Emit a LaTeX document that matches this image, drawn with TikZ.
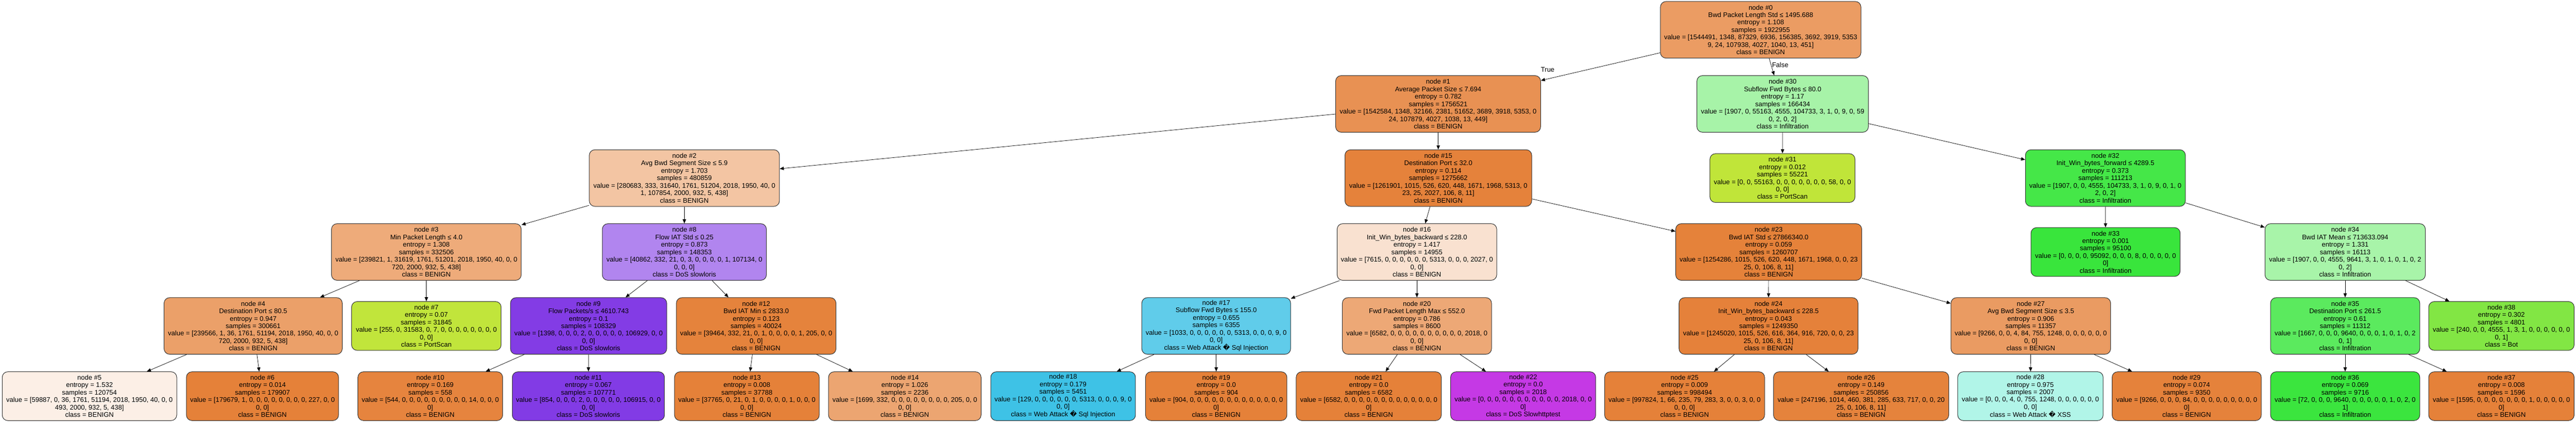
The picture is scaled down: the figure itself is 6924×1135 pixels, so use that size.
\documentclass[tikz,border=0pt]{standalone}
\usepackage{fontspec}
\setmainfont{Liberation Sans}
\newfontfamily\djv{DejaVu Sans}
\usetikzlibrary{arrows.meta}
\definecolor{c0}{RGB}{235,156,99}
\definecolor{c1}{RGB}{232,145,83}
\definecolor{c2}{RGB}{243,197,163}
\definecolor{c3}{RGB}{238,171,122}
\definecolor{c4}{RGB}{235,160,105}
\definecolor{c5}{RGB}{252,239,230}
\definecolor{c6}{RGB}{229,129,57}
\definecolor{c7}{RGB}{193,229,59}
\definecolor{c8}{RGB}{177,133,239}
\definecolor{c9}{RGB}{131,60,229}
\definecolor{c10}{RGB}{230,132,62}
\definecolor{c11}{RGB}{130,59,229}
\definecolor{c12}{RGB}{229,131,60}
\definecolor{c13}{RGB}{229,129,57}
\definecolor{c14}{RGB}{236,165,113}
\definecolor{c15}{RGB}{229,130,59}
\definecolor{c16}{RGB}{249,225,208}
\definecolor{c17}{RGB}{96,204,234}
\definecolor{c18}{RGB}{62,194,230}
\definecolor{c19}{RGB}{229,129,57}
\definecolor{c20}{RGB}{237,168,118}
\definecolor{c21}{RGB}{229,129,57}
\definecolor{c22}{RGB}{197,57,229}
\definecolor{c23}{RGB}{229,130,58}
\definecolor{c24}{RGB}{229,129,58}
\definecolor{c25}{RGB}{229,129,57}
\definecolor{c26}{RGB}{229,131,60}
\definecolor{c27}{RGB}{234,155,98}
\definecolor{c28}{RGB}{177,245,232}
\definecolor{c29}{RGB}{229,130,59}
\definecolor{c30}{RGB}{167,243,168}
\definecolor{c31}{RGB}{192,229,57}
\definecolor{c32}{RGB}{69,231,72}
\definecolor{c33}{RGB}{57,229,60}
\definecolor{c34}{RGB}{168,244,169}
\definecolor{c35}{RGB}{91,234,94}
\definecolor{c36}{RGB}{59,229,62}
\definecolor{c37}{RGB}{229,129,57}
\definecolor{c38}{RGB}{130,230,68}
\definecolor{bord}{RGB}{50,50,50}
\newcommand\qm{{\djv �}}
\begin{document}
\begin{tikzpicture}[x=1pt,y=-1pt,
  tn/.style={draw=bord, line width=1.4pt, rounded corners=15pt, align=center, inner sep=0pt, font=\fontsize{18}{20}\selectfont},
  inn/.style={tn, minimum height=152pt},
  lf/.style={tn, minimum height=131pt},
  lbl/.style={inner sep=0pt, font=\fontsize{18}{20}\selectfont},
  arr/.style={-{Triangle[length=11pt,width=9pt]}, line width=1pt}]
\useasboundingbox[fill=white] (0,0) rectangle (6924,1135);
% level 0
\node[inn, fill=c0, minimum width=539pt] (n0) at (4732.5,80) {node \#0\\Bwd Packet Length Std ≤ 1495.688\\entropy = 1.108\\samples = 1922955\\value = [1544491, 1348, 87329, 6936, 156385, 3692, 3919, 5353\\9, 24, 107938, 4027, 1040, 13, 451]\\class = BENIGN};
% level 1
\node[inn, fill=c1, minimum width=551pt] (n1) at (3865.5,279) {node \#1\\Average Packet Size ≤ 7.694\\entropy = 0.782\\samples = 1756521\\value = [1542584, 1348, 32166, 2381, 51652, 3689, 3918, 5353, 0\\24, 107879, 4027, 1038, 13, 449]\\class = BENIGN};
\node[inn, fill=c30, minimum width=461pt] (n30) at (4791.5,279) {node \#30\\Subflow Fwd Bytes ≤ 80.0\\entropy = 1.17\\samples = 166434\\value = [1907, 0, 55163, 4555, 104733, 3, 1, 0, 9, 0, 59\\0, 2, 0, 2]\\class = Infiltration};
% level 2
\node[inn, fill=c2, minimum width=511pt] (n2) at (1839.5,478) {node \#2\\Avg Bwd Segment Size ≤ 5.9\\entropy = 1.703\\samples = 480859\\value = [280683, 333, 31640, 1761, 51204, 2018, 1950, 40, 0\\1, 107854, 2000, 932, 5, 438]\\class = BENIGN};
\node[inn, fill=c15, minimum width=502pt] (n15) at (3866,478) {node \#15\\Destination Port ≤ 32.0\\entropy = 0.114\\samples = 1275662\\value = [1261901, 1015, 526, 620, 448, 1671, 1968, 5313, 0\\23, 25, 2027, 106, 8, 11]\\class = BENIGN};
\node[lf, fill=c31, minimum width=390pt] (n31) at (4791,478) {node \#31\\entropy = 0.012\\samples = 55221\\value = [0, 0, 55163, 0, 0, 0, 0, 0, 0, 0, 58, 0, 0\\0, 0]\\class = PortScan};
\node[inn, fill=c32, minimum width=430pt] (n32) at (5659,478) {node \#32\\Init\_Win\_bytes\_forward ≤ 4289.5\\entropy = 0.373\\samples = 111213\\value = [1907, 0, 0, 4555, 104733, 3, 1, 0, 9, 0, 1, 0\\2, 0, 2]\\class = Infiltration};
% level 3
\node[inn, fill=c3, minimum width=510pt] (n3) at (1146,676.5) {node \#3\\Min Packet Length ≤ 4.0\\entropy = 1.308\\samples = 332506\\value = [239821, 1, 31619, 1761, 51201, 2018, 1950, 40, 0, 0\\720, 2000, 932, 5, 438]\\class = BENIGN};
\node[inn, fill=c8, minimum width=441pt] (n8) at (1839.5,676.5) {node \#8\\Flow IAT Std ≤ 0.25\\entropy = 0.873\\samples = 148353\\value = [40862, 332, 21, 0, 3, 0, 0, 0, 0, 1, 107134, 0\\0, 0, 0]\\class = DoS slowloris};
\node[inn, fill=c16, minimum width=429pt] (n16) at (3808.5,676.5) {node \#16\\Init\_Win\_bytes\_backward ≤ 228.0\\entropy = 1.417\\samples = 14955\\value = [7615, 0, 0, 0, 0, 0, 0, 5313, 0, 0, 0, 2027, 0\\0, 0]\\class = BENIGN};
\node[inn, fill=c23, minimum width=500pt] (n23) at (4754,676.5) {node \#23\\Bwd IAT Std ≤ 27866340.0\\entropy = 0.059\\samples = 1260707\\value = [1254286, 1015, 526, 620, 448, 1671, 1968, 0, 0, 23\\25, 0, 106, 8, 11]\\class = BENIGN};
\node[lf, fill=c33, minimum width=401pt] (n33) at (5659.5,676.5) {node \#33\\entropy = 0.001\\samples = 95100\\value = [0, 0, 0, 0, 95092, 0, 0, 0, 8, 0, 0, 0, 0, 0\\0]\\class = Infiltration};
\node[inn, fill=c34, minimum width=431pt] (n34) at (6303.5,676.5) {node \#34\\Bwd IAT Mean ≤ 713633.094\\entropy = 1.331\\samples = 16113\\value = [1907, 0, 0, 4555, 9641, 3, 1, 0, 1, 0, 1, 0, 2\\0, 2]\\class = Infiltration};
% level 4
\node[inn, fill=c4, minimum width=479pt] (n4) at (680.5,875) {node \#4\\Destination Port ≤ 80.5\\entropy = 0.947\\samples = 300661\\value = [239566, 1, 36, 1761, 51194, 2018, 1950, 40, 0, 0\\720, 2000, 932, 5, 438]\\class = BENIGN};
\node[lf, fill=c7, minimum width=402pt] (n7) at (1146,875) {node \#7\\entropy = 0.07\\samples = 31845\\value = [255, 0, 31583, 0, 7, 0, 0, 0, 0, 0, 0, 0, 0\\0, 0]\\class = PortScan};
\node[inn, fill=c9, minimum width=420pt] (n9) at (1582,875) {node \#9\\Flow Packets/s ≤ 4610.743\\entropy = 0.1\\samples = 108329\\value = [1398, 0, 0, 0, 2, 0, 0, 0, 0, 0, 106929, 0, 0\\0, 0]\\class = DoS slowloris};
\node[inn, fill=c12, minimum width=429pt] (n12) at (2032.5,875) {node \#12\\Bwd IAT Min ≤ 2833.0\\entropy = 0.123\\samples = 40024\\value = [39464, 332, 21, 0, 1, 0, 0, 0, 0, 1, 205, 0, 0\\0, 0]\\class = BENIGN};
\node[inn, fill=c17, minimum width=400pt] (n17) at (3269,875) {node \#17\\Subflow Fwd Bytes ≤ 155.0\\entropy = 0.655\\samples = 6355\\value = [1033, 0, 0, 0, 0, 0, 0, 5313, 0, 0, 0, 9, 0\\0, 0]\\class = Web Attack \qm{} Sql Injection};
\node[inn, fill=c20, minimum width=401pt] (n20) at (3808.5,875) {node \#20\\Fwd Packet Length Max ≤ 552.0\\entropy = 0.786\\samples = 8600\\value = [6582, 0, 0, 0, 0, 0, 0, 0, 0, 0, 0, 2018, 0\\0, 0]\\class = BENIGN};
\node[inn, fill=c24, minimum width=481pt] (n24) at (4753.5,875) {node \#24\\Init\_Win\_bytes\_backward ≤ 228.5\\entropy = 0.043\\samples = 1249350\\value = [1245020, 1015, 526, 616, 364, 916, 720, 0, 0, 23\\25, 0, 106, 8, 11]\\class = BENIGN};
\node[inn, fill=c27, minimum width=429pt] (n27) at (5458.5,875) {node \#27\\Avg Bwd Segment Size ≤ 3.5\\entropy = 0.906\\samples = 11357\\value = [9266, 0, 0, 4, 84, 755, 1248, 0, 0, 0, 0, 0, 0\\0, 0]\\class = BENIGN};
\node[inn, fill=c35, minimum width=401pt] (n35) at (6303.5,875) {node \#35\\Destination Port ≤ 261.5\\entropy = 0.61\\samples = 11312\\value = [1667, 0, 0, 0, 9640, 0, 0, 0, 1, 0, 1, 0, 2\\0, 1]\\class = Infiltration};
\node[lf, fill=c38, minimum width=391pt] (n38) at (6723.5,875) {node \#38\\entropy = 0.302\\samples = 4801\\value = [240, 0, 0, 4555, 1, 3, 1, 0, 0, 0, 0, 0, 0\\0, 1]\\class = Bot};
% level 5
\node[lf, fill=c5, minimum width=469pt] (n5) at (240.5,1063.5) {node \#5\\entropy = 1.532\\samples = 120754\\value = [59887, 0, 36, 1761, 51194, 2018, 1950, 40, 0, 0\\493, 2000, 932, 5, 438]\\class = BENIGN};
\node[lf, fill=c6, minimum width=409pt] (n6) at (705.5,1063.5) {node \#6\\entropy = 0.014\\samples = 179907\\value = [179679, 1, 0, 0, 0, 0, 0, 0, 0, 0, 227, 0, 0\\0, 0]\\class = BENIGN};
\node[lf, fill=c10, minimum width=389pt] (n10) at (1156.5,1063.5) {node \#10\\entropy = 0.169\\samples = 558\\value = [544, 0, 0, 0, 0, 0, 0, 0, 0, 0, 14, 0, 0, 0\\0]\\class = BENIGN};
\node[lf, fill=c11, minimum width=409pt] (n11) at (1581.5,1063.5) {node \#11\\entropy = 0.067\\samples = 107771\\value = [854, 0, 0, 0, 2, 0, 0, 0, 0, 0, 106915, 0, 0\\0, 0]\\class = DoS slowloris};
\node[lf, fill=c13, minimum width=389pt] (n13) at (2007.5,1063.5) {node \#13\\entropy = 0.008\\samples = 37788\\value = [37765, 0, 21, 0, 1, 0, 0, 0, 0, 1, 0, 0, 0\\0, 0]\\class = BENIGN};
\node[lf, fill=c14, minimum width=410pt] (n14) at (2432,1063.5) {node \#14\\entropy = 1.026\\samples = 2236\\value = [1699, 332, 0, 0, 0, 0, 0, 0, 0, 0, 205, 0, 0\\0, 0]\\class = BENIGN};
\node[lf, fill=c18, minimum width=389pt] (n18) at (2857.5,1063.5) {node \#18\\entropy = 0.179\\samples = 5451\\value = [129, 0, 0, 0, 0, 0, 0, 5313, 0, 0, 0, 9, 0\\0, 0]\\class = Web Attack \qm{} Sql Injection};
\node[lf, fill=c19, minimum width=380pt] (n19) at (3269,1063.5) {node \#19\\entropy = 0.0\\samples = 904\\value = [904, 0, 0, 0, 0, 0, 0, 0, 0, 0, 0, 0, 0, 0\\0]\\class = BENIGN};
\node[lf, fill=c21, minimum width=390pt] (n21) at (3679,1063.5) {node \#21\\entropy = 0.0\\samples = 6582\\value = [6582, 0, 0, 0, 0, 0, 0, 0, 0, 0, 0, 0, 0, 0\\0]\\class = BENIGN};
\node[lf, fill=c22, minimum width=390pt] (n22) at (4094,1063.5) {node \#22\\entropy = 0.0\\samples = 2018\\value = [0, 0, 0, 0, 0, 0, 0, 0, 0, 0, 0, 2018, 0, 0\\0]\\class = DoS Slowhttptest};
\node[lf, fill=c25, minimum width=430pt] (n25) at (4528,1063.5) {node \#25\\entropy = 0.009\\samples = 998494\\value = [997824, 1, 66, 235, 79, 283, 3, 0, 0, 3, 0, 0\\0, 0, 0]\\class = BENIGN};
\node[lf, fill=c26, minimum width=471pt] (n26) at (5002.5,1063.5) {node \#26\\entropy = 0.149\\samples = 250856\\value = [247196, 1014, 460, 381, 285, 633, 717, 0, 0, 20\\25, 0, 106, 8, 11]\\class = BENIGN};
\node[lf, fill=c28, minimum width=391pt] (n28) at (5457.5,1063.5) {node \#28\\entropy = 0.975\\samples = 2007\\value = [0, 0, 0, 4, 0, 755, 1248, 0, 0, 0, 0, 0, 0\\0, 0]\\class = Web Attack \qm{} XSS};
\node[lf, fill=c29, minimum width=401pt] (n29) at (5877.5,1063.5) {node \#29\\entropy = 0.074\\samples = 9350\\value = [9266, 0, 0, 0, 84, 0, 0, 0, 0, 0, 0, 0, 0, 0\\0]\\class = BENIGN};
\node[lf, fill=c36, minimum width=401pt] (n36) at (6303.5,1063.5) {node \#36\\entropy = 0.069\\samples = 9716\\value = [72, 0, 0, 0, 9640, 0, 0, 0, 0, 0, 1, 0, 2, 0\\1]\\class = Infiltration};
\node[lf, fill=c37, minimum width=391pt] (n37) at (6723.5,1063.5) {node \#37\\entropy = 0.008\\samples = 1596\\value = [1595, 0, 0, 0, 0, 0, 0, 0, 1, 0, 0, 0, 0, 0\\0]\\class = BENIGN};
% edges
\foreach \a/\b in {0/1,0/30,1/2,1/15,2/3,2/8,3/4,3/7,4/5,4/6,8/9,8/12,9/10,9/11,12/13,12/14,15/16,15/23,16/17,16/20,17/18,17/19,20/21,20/22,23/24,23/27,24/25,24/26,27/28,27/29,30/31,30/32,32/33,32/34,34/35,34/38,35/36,35/37}
  \draw[arr] (n\a) -- (n\b);
\node[lbl] (ltrue) at (4160,187) {True};
\node[lbl] (lfalse) at (4785,174) {False};
\end{tikzpicture}
\end{document}
